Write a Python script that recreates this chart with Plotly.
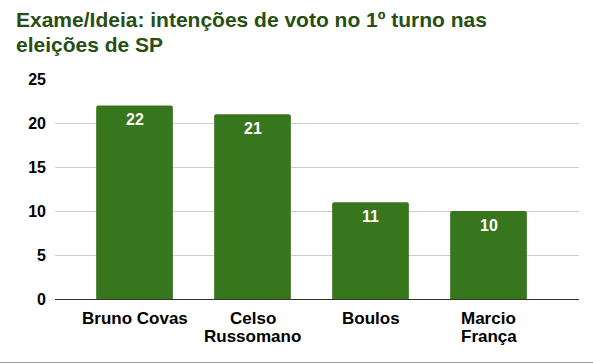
import plotly.graph_objects as go

categories = ["Bruno Covas", "Celso<br>Russomano", "Boulos", "Marcio<br>França"]
values = [22, 21, 11, 10]
y_ticks = [0, 5, 10, 15, 20, 25]

title_lines = ["Exame/Ideia: intenções de voto no 1º turno nas", "eleições de SP"]

x_pos = list(range(len(categories)))

PLOT_H = 364 - 79 - 65
FONT = "Liberation Sans, Arial"

fig = go.Figure(go.Bar(
    x=x_pos,
    y=values,
    width=0.65,
    marker=dict(color="#38761d", cornerradius=2, line=dict(width=0)),
    hoverinfo="skip",
))

annotations = []
# title, one annotation per line for tight line spacing
for i, line in enumerate(title_lines):
    baseline_px = 28 + 25 * i
    annotations.append(dict(
        text=line, xref="paper", yref="paper",
        x=-41 / 524, xanchor="left",
        y=1 + (79 - baseline_px) / PLOT_H, yanchor="bottom",
        yshift=-5,
        showarrow=False,
        font=dict(family=FONT, size=21, color="#274e13", weight="bold"),
    ))

# category labels below the axis (tight line spacing)
for xp, cat in zip(x_pos, categories):
    for j, part in enumerate(cat.split("<br>")):
        annotations.append(dict(
            text=part, x=xp, xref="x", y=0, yref="y",
            xanchor="center", yanchor="top",
            yshift=-7.5 - 18.3 * j,
            showarrow=False,
            font=dict(family=FONT, size=17, color="#000000", weight="bold"),
        ))

# value labels inside the bars
for xp, v in zip(x_pos, values):
    annotations.append(dict(
        text=str(v), x=xp, xref="x", y=v, yref="y",
        xanchor="center", yanchor="top", yshift=-4,
        showarrow=False,
        font=dict(family=FONT, size=16, color="#ffffff", weight="bold"),
    ))

fig.update_layout(
    width=593, height=364,
    margin=dict(l=55, r=14, t=79, b=65, autoexpand=False),
    paper_bgcolor="white", plot_bgcolor="white",
    showlegend=False,
    font=dict(family=FONT),
    annotations=annotations,
    xaxis=dict(
        range=[-0.674, 3.767],
        tickmode="array", tickvals=x_pos,
        showticklabels=False,
        showgrid=False, zeroline=False,
        showline=False, ticks="",
        automargin=False,
        fixedrange=True,
    ),
    yaxis=dict(
        range=[0, 25],
        tickmode="array", tickvals=y_ticks, ticktext=[str(t) for t in y_ticks],
        tickfont=dict(size=16, color="#000000", weight="bold"),
        showgrid=True, gridcolor="#cccccc", gridwidth=1,
        zeroline=True, zerolinecolor="#333333", zerolinewidth=1,
        ticks="", ticklabelstandoff=8,
        automargin=False,
        fixedrange=True,
    ),
    shapes=[dict(
        type="line", xref="paper", yref="paper",
        x0=-55 / 524, x1=1 + 14 / 524, y0=-0.2886, y1=-0.2886,
        line=dict(color="#9e9e9e", width=1),
    )],
)

fig.write_html(
    "out.html",
    config={"displayModeBar": False},
    post_script="document.body.style.margin='0';document.body.style.overflow='hidden';",
)
